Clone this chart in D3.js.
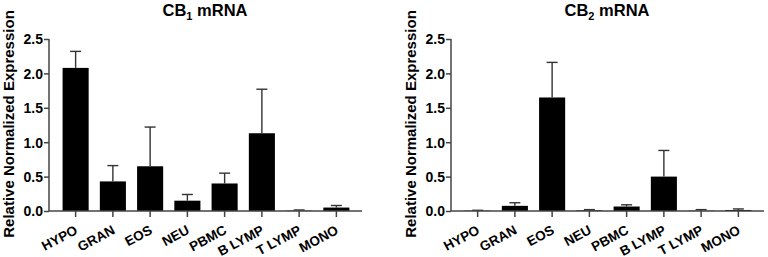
<!DOCTYPE html>
<html>
<head>
<meta charset="utf-8">
<script src="https://cdn.jsdelivr.net/npm/d3@7"></script>
<style>
  body { margin: 0; background: white; }
  svg { display: block; font-family: "Liberation Sans", Arial, sans-serif; }
</style>
</head>
<body>
<div id="chart"></div>
<script>
const categories = ["HYPO", "GRAN", "EOS", "NEU", "PBMC", "B LYMP", "T LYMP", "MONO"];
const cb1Mean = [2.08, 0.43, 0.65, 0.15, 0.40, 1.13, 0.005, 0.05];
const cb1Upper = [2.32, 0.66, 1.22, 0.24, 0.55, 1.77, 0.015, 0.08];
const cb2Mean = [0.005, 0.075, 1.65, 0.01, 0.065, 0.50, 0.005, 0.015];
const cb2Upper = [0.01, 0.12, 2.16, 0.02, 0.09, 0.88, 0.02, 0.03];
const yTicks = [0, 0.5, 1.0, 1.5, 2.0, 2.5];

const W = 768, H = 257;
const svg = d3.select("#chart").append("svg").attr("width", W).attr("height", H);

// one panel
function panel(left, sub, means, uppers) {
  const x0 = left + 49, x1 = left + 362;
  const yScale = d3.scaleLinear().domain([0, 2.5]).range([211, 39]);
  const xScale = d3.scaleBand().domain(categories).range([x0 + 8, x1 - 7]).paddingInner(0.3).paddingOuter(0.15);
  const cx = d => xScale(d) + xScale.bandwidth() / 2;

  const g = svg.append("g");

  // title
  const t = g.append("text")
    .attr("x", left + 205).attr("y", 16)
    .attr("text-anchor", "middle")
    .attr("font-size", 16.5).attr("font-weight", "bold");
  t.append("tspan").text("CB");
  t.append("tspan").text(sub).attr("font-size", 11).attr("dy", 4);
  t.append("tspan").text(" mRNA").attr("dy", -4);

  // y label
  g.append("text")
    .attr("transform", "translate(" + (left + 13.5) + ",124) rotate(-90)")
    .attr("text-anchor", "middle")
    .attr("font-size", 15).attr("font-weight", "bold")
    .text("Relative Normalized Expression");

  // bars
  g.selectAll(".bar").data(categories).enter().append("rect")
    .attr("x", d => xScale(d))
    .attr("width", xScale.bandwidth())
    .attr("y", (d, i) => yScale(means[i]))
    .attr("height", (d, i) => yScale(0) - yScale(means[i]))
    .attr("fill", "#000");

  // error bars
  const err = g.selectAll(".err").data(categories).enter().append("g")
    .attr("stroke", "#333").attr("stroke-width", 1.4);
  err.append("line")
    .attr("x1", cx).attr("x2", cx)
    .attr("y1", (d, i) => yScale(means[i]))
    .attr("y2", (d, i) => yScale(uppers[i]));
  err.append("line")
    .attr("x1", d => cx(d) - 5.5)
    .attr("x2", d => cx(d) + 5.5)
    .attr("y1", (d, i) => yScale(uppers[i]))
    .attr("y2", (d, i) => yScale(uppers[i]));

  // y axis
  const yAxis = d3.axisLeft(yScale).tickValues(yTicks).tickFormat(d3.format(".1f")).tickSize(5).tickSizeOuter(0);
  const ya = g.append("g").attr("transform", "translate(" + x0 + ",0)").call(yAxis);
  ya.select(".domain").attr("stroke", "#444").attr("stroke-width", 1.5).attr("d", "M0,39V211");
  ya.selectAll(".tick line").attr("stroke", "#444").attr("stroke-width", 1.5);
  ya.selectAll(".tick text").attr("font-size", 14).attr("font-weight", "bold").attr("fill", "#000")
    .attr("font-family", "Liberation Sans, Arial, sans-serif").attr("x", -6).attr("dy", "0.35em");

  // x axis (labels drawn separately, rotated)
  const xAxis = d3.axisBottom(xScale).tickSize(6).tickSizeOuter(0).tickFormat("");
  const xa = g.append("g").attr("transform", "translate(0,211)").call(xAxis);
  xa.select(".domain").attr("stroke", "#444").attr("stroke-width", 1.5).attr("d", "M" + x0 + ",0H" + x1);
  xa.selectAll(".tick line").attr("stroke", "#444").attr("stroke-width", 1.5);

  g.selectAll(".xlab").data(categories).enter().append("text")
    .attr("transform", d => "translate(" + (cx(d) + 3) + ",233) rotate(-28)")
    .attr("text-anchor", "end")
    .attr("font-size", 13.5).attr("font-weight", "bold")
    .text(d => d);
}

panel(0, "1", cb1Mean, cb1Upper);
panel(402, "2", cb2Mean, cb2Upper);
</script>
</body>
</html>
